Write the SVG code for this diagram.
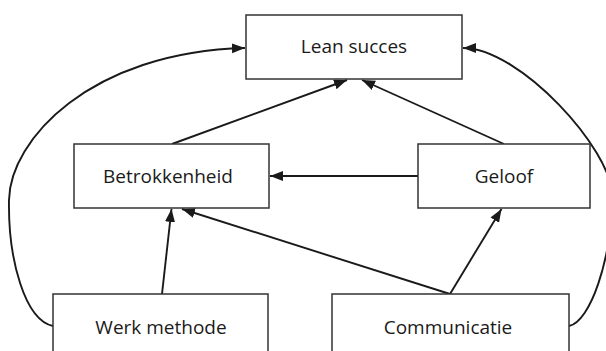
<svg xmlns="http://www.w3.org/2000/svg" width="606" height="351" viewBox="0 0 606 351">
<defs>
<marker id="arr" markerUnits="userSpaceOnUse" markerWidth="14" markerHeight="12" refX="13" refY="5" orient="auto">
<path d="M0,0 L13,5 L0,10 z" fill="#1a1a1a"/>
</marker>
<style>
.box{fill:#fff;stroke:#333;stroke-width:1.5}
.lbl{font-family:"Open Sans","Liberation Sans",sans-serif;font-size:19px;fill:#1a1a1a;text-anchor:middle}
.c{fill:none;stroke:#1a1a1a;stroke-width:1.9;marker-end:url(#arr)}
</style>
</defs>
<rect width="606" height="351" fill="#fff"/>
<g id="connectors">
<path class="c" d="M172,144 L347,80"/>
<path class="c" d="M504,144 L362,80"/>
<path class="c" d="M418,176 L270,176"/>
<path class="c" d="M162,294 L171.5,209"/>
<path class="c" d="M450,294 L182,209"/>
<path class="c" d="M450,294 L501.5,209"/>
<path class="c" d="M53,326 C25,320 8,260 9,200 C10,140 90,52 245,48"/>
<path class="c" d="M569,326 C590,322 612,260 612,195 C612,150 520,48 463,48"/>
</g>
<g id="lean-succes">
<rect class="box" x="246" y="15" width="216" height="64"/>
<text class="lbl" x="354" y="52.5">Lean succes</text>
</g>
<g id="betrokkenheid">
<rect class="box" x="74" y="144" width="195" height="64"/>
<text class="lbl" x="168" y="182.5">Betrokkenheid</text>
</g>
<g id="geloof">
<rect class="box" x="418" y="144" width="172" height="64"/>
<text class="lbl" x="504" y="182.5">Geloof</text>
</g>
<g id="werk-methode">
<rect class="box" x="53" y="294" width="215" height="64"/>
<text class="lbl" x="161" y="333.5">Werk methode</text>
</g>
<g id="communicatie">
<rect class="box" x="332" y="294" width="237" height="64"/>
<text class="lbl" x="448" y="333.5">Communicatie</text>
</g>
</svg>
